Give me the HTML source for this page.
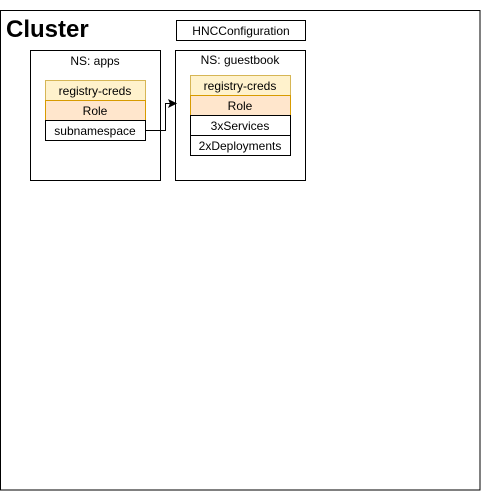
<!DOCTYPE html>
<html><head><style>body{margin:0;background:#fff}</style></head><body>
<svg width="481" height="499" xmlns="http://www.w3.org/2000/svg" font-family="Liberation Sans, sans-serif">
<rect x="0.5" y="10.5" width="479.5" height="479.5" fill="#fff" stroke="#000"/>
<text x="6" y="37" font-size="24" font-weight="bold">Cluster</text>
<rect x="176.5" y="20.5" width="129" height="20" fill="#fff" stroke="#000"/>
<text x="241" y="35" font-size="12" text-anchor="middle">HNCConfiguration</text>
<rect x="30.5" y="50.5" width="130" height="130" fill="#fff" stroke="#000"/>
<text x="95" y="65" font-size="12" text-anchor="middle">NS: apps</text>
<rect x="45.5" y="80.5" width="100" height="20" fill="#fff2cc" stroke="#d6b656"/>
<text x="95" y="95" font-size="12" text-anchor="middle">registry-creds</text>
<rect x="45.5" y="100.5" width="100" height="20" fill="#ffe6cc" stroke="#d79b00"/>
<text x="95" y="115" font-size="12" text-anchor="middle">Role</text>
<rect x="45.5" y="120.5" width="100" height="20" fill="#fff" stroke="#000"/>
<text x="95" y="135" font-size="12" text-anchor="middle">subnamespace</text>
<rect x="175.5" y="50.5" width="130" height="130" fill="#fff" stroke="#000"/>
<text x="240" y="64" font-size="12" text-anchor="middle">NS: guestbook</text>
<rect x="190.5" y="75.5" width="100" height="20" fill="#fff2cc" stroke="#d6b656"/>
<text x="240" y="90" font-size="12" text-anchor="middle">registry-creds</text>
<rect x="190.5" y="95.5" width="100" height="20" fill="#ffe6cc" stroke="#d79b00"/>
<text x="240" y="110" font-size="12" text-anchor="middle">Role</text>
<rect x="190.5" y="115.5" width="100" height="20" fill="#fff" stroke="#000"/>
<text x="240" y="130" font-size="12" text-anchor="middle">3xServices</text>
<rect x="190.5" y="135.5" width="100" height="20" fill="#fff" stroke="#000"/>
<text x="240" y="150" font-size="12" text-anchor="middle">2xDeployments</text>
<path d="M145.5 130.5 H165.5 V103.5 H170" fill="none" stroke="#000"/>
<path d="M176 103.5 L169 100 L170.5 103.5 L169 107 Z" fill="#000" stroke="#000"/>
</svg>
</body></html>
